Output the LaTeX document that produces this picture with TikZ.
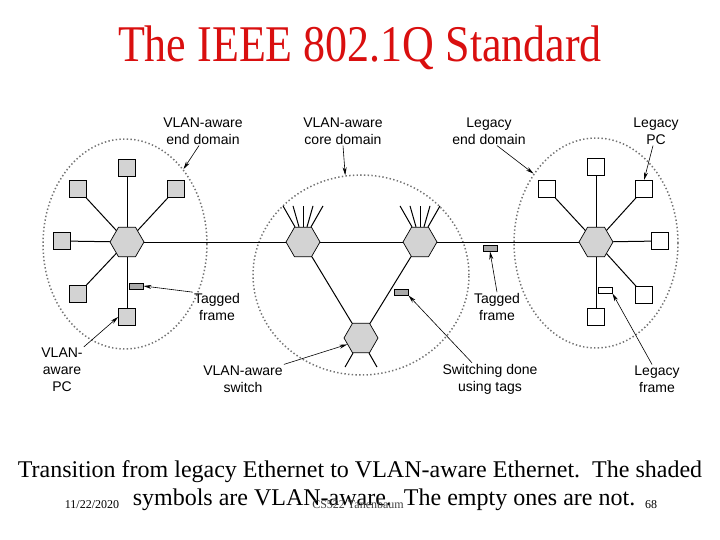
\documentclass[tikz,border=0pt]{standalone}
\usepackage{fontspec}
\setmainfont{Liberation Serif}
\newfontfamily\labelfont{Liberation Sans}
\usetikzlibrary{shapes.geometric, arrows.meta}
\definecolor{titlered}{HTML}{D90F0F}
\definecolor{shadegray}{HTML}{D3D3D3}

\begin{document}
\begin{tikzpicture}[
  x=1pt, y=-1pt,
  hub/.style={regular polygon, regular polygon sides=6, minimum size=34pt, inner sep=0pt, draw=black, fill=shadegray, line width=0.7pt},
  pc/.style={rectangle, minimum size=17pt, inner sep=0pt, draw=black, fill=shadegray, line width=0.7pt},
  oldpc/.style={pc, fill=white},
  tagbox/.style={rectangle, minimum width=14pt, minimum height=6pt, inner sep=0pt, draw=black, fill=shadegray!80!black, line width=1pt},
  oldbox/.style={tagbox, fill=white},
  zone/.style={ellipse, inner sep=0pt, draw=black!55, line width=1.5pt, dash pattern=on 1.4pt off 2.3pt},
  lbl/.style={font=\labelfont\fontsize{14}{17}\selectfont, align=center, inner sep=1pt},
  link/.style={draw=black, line width=1pt},
  arrow/.style={-{Stealth[length=8pt, width=4pt]}, line width=0.6pt, draw=black}
]
  \useasboundingbox (0,0) rectangle (720,540);

  % domains
  \node[zone, minimum width=164pt, minimum height=210pt] (domL) at (125,244) {};
  \node[zone, minimum width=216pt, minimum height=200pt] (domC) at (361,275) {};
  \node[zone, minimum width=164pt, minimum height=210pt] (domR) at (596,243) {};

  % switches
  \node[hub] (hubL) at (127,242) {};
  \node[hub] (coreA) at (303,242) {};
  \node[hub] (coreB) at (420,242) {};
  \node[hub] (coreC) at (361,338) {};
  \node[hub] (hubR) at (596,242) {};

  % VLAN-aware PCs
  \node[pc] (pcL1) at (127,168) {};
  \node[pc] (pcL2) at (78,189) {};
  \node[pc] (pcL3) at (176,189) {};
  \node[pc] (pcL4) at (62,241) {};
  \node[pc] (pcL5) at (78,294) {};
  \node[pc] (pcL6) at (127,317) {};

  % legacy PCs
  \node[oldpc] (pcR1) at (596,167) {};
  \node[oldpc] (pcR2) at (644,189) {};
  \node[oldpc] (pcR3) at (547,189) {};
  \node[oldpc] (pcR4) at (660,241) {};
  \node[oldpc] (pcR5) at (644,295) {};
  \node[oldpc] (pcR6) at (596,317) {};

  % frames
  \node[tagbox] (frL) at (136,286) {};
  \node[tagbox] (frCore) at (401,292) {};
  \node[tagbox] (frTrunk) at (490,248) {};
  \node[oldbox] (frLegacy) at (605,290) {};

  % labels
  \node[lbl] (lblVED) at (203,131) {VLAN-aware\\end domain};
  \node[lbl] (lblCore) at (343,131) {VLAN-aware\\core domain};
  \node[lbl] (lblLED) at (489,131) {Legacy\\end domain};
  \node[lbl] (lblLPC) at (656,131) {Legacy\\PC};
  \node[lbl] (lblTagL) at (217,307) {Tagged\\frame};
  \node[lbl] (lblTagT) at (497,307) {Tagged\\frame};
  \node[lbl] (lblVPC) at (62,370) {VLAN-\\aware\\PC};
  \node[lbl] (lblSw) at (243,379) {VLAN-aware\\switch};
  \node[lbl] (lblStd) at (490,379) {Switching done\\using tags};
  \node[lbl] (lblLF) at (657,379) {Legacy\\frame};

  % texts
  \node[anchor=base, text=titlered, font=\fontsize{44}{50}\selectfont, inner sep=0pt] (title) at (360,62) {\scalebox{1}[1.17]{The IEEE 802.1Q Standard}};
  \node[anchor=base, font=\fontsize{24}{28}\selectfont, inner sep=0pt] (capA) at (360,477) {Transition from legacy Ethernet to VLAN-aware Ethernet.\ \ The shaded};
  \node[anchor=base, font=\fontsize{24}{28}\selectfont, inner sep=0pt] (capB) at (384,505) {symbols are VLAN-aware.\ \ The empty ones are not.};
  \node[anchor=base, font=\fontsize{12}{14}\selectfont, inner sep=0pt] (date) at (92,508) {11/22/2020};
  \node[anchor=base, font=\fontsize{12}{14}\selectfont, inner sep=0pt, text=black!75] (course) at (358,508) {CS522 Tanenbaum};
  \node[anchor=base, font=\fontsize{12}{14}\selectfont, inner sep=0pt] (page) at (651,508) {68};

  % links
  \foreach \p in {pcL1,pcL2,pcL3,pcL4,pcL5,pcL6}
    \draw[link] (hubL) -- (\p);
  \foreach \p in {pcR1,pcR2,pcR3,pcR4,pcR5,pcR6}
    \draw[link] (hubR) -- (\p);
  \draw[link] (hubL) -- (coreA);
  \draw[link] (coreA) -- (coreB);
  \draw[link] (coreB) -- (hubR);
  \draw[link] (coreA) -- (coreC);
  \draw[link] (coreB) -- (coreC);
  \foreach \s/\e in {-8/-20, -4/-10, 0/0, 4/10, 8/20} {
    \draw[link] ([xshift=\s pt]coreA.north) -- ([xshift=\e pt, yshift=21pt]coreA.north);
    \draw[link] ([xshift=\s pt]coreB.north) -- ([xshift=\e pt, yshift=21pt]coreB.north);
  }
  \draw[link] ([xshift=-8pt]coreC.south) -- ([xshift=-16pt, yshift=-14pt]coreC.south);
  \draw[link] ([xshift=8pt]coreC.south) -- ([xshift=16pt, yshift=-14pt]coreC.south);

  % pointers
  \draw[arrow] ([xshift=-4pt]lblVED.south) -- (domL.52);
  \draw[arrow] (lblCore.south) -- (domC.99);
  \draw[arrow] ([xshift=8pt]lblLED.south) -- (domR.132);
  \draw[arrow] ([xshift=-3pt]lblLPC.south) -- (pcR2.north);
  \draw[arrow] (lblTagL.north west) -- (frL.east);
  \draw[arrow] (lblTagT.north) -- (frTrunk.south);
  \draw[arrow] (lblVPC.north east) -- (pcL6.west);
  \draw[arrow] (lblSw.north east) -- (coreC.205);
  \draw[arrow] ([xshift=-18pt]lblStd.north) -- (frCore.south east);
  \draw[arrow] ([xshift=-5pt]lblLF.north) -- (frLegacy.south east);
\end{tikzpicture}
\end{document}
